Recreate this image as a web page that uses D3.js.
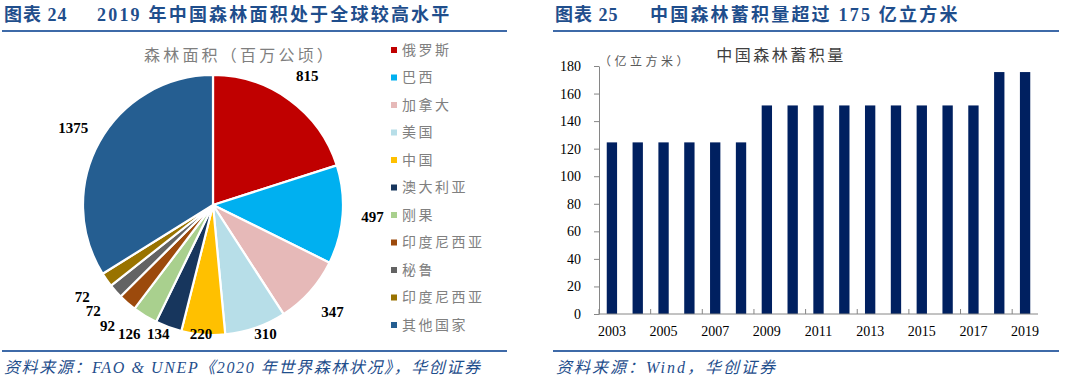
<!DOCTYPE html>
<html><head><meta charset="utf-8">
<script src="https://cdn.jsdelivr.net/npm/d3@7"></script>
<style>
html,body{margin:0;padding:0;background:#fff;}
svg{display:block;}
</style></head>
<body>
<script>
// ---------- data ----------
const pieTitle = "森林面积（百万公顷）";
const pieCategories = ["俄罗斯","巴西","加拿大","美国","中国","澳大利亚","刚果","印度尼西亚","秘鲁","印度尼西亚","其他国家"];
const pieValues = [815,497,347,310,220,134,126,92,72,72,1375];
const pieColors = ["#C00000","#00B0F0","#E6B9B8","#B7DEE8","#FFC000","#17365D","#A9D08E","#9C4A0C","#636363","#997300","#255E91"];

const barTitle = "中国森林蓄积量";
const barUnit = "（亿立方米）";
const years = ["2003","2004","2005","2006","2007","2008","2009","2010","2011","2012","2013","2014","2015","2016","2017","2018","2019"];
const stock = [124.56,124.56,124.56,124.56,124.56,124.56,151.37,151.37,151.37,151.37,151.37,151.37,151.37,151.37,151.37,175.6,175.6];
const yTicks = [0,20,40,60,80,100,120,140,160,180];
const xLabels = ["2003","2005","2007","2009","2011","2013","2015","2017","2019"];

const W = 1080, H = 379;
const blue = "#1F4E8C";
const lineBlue = "#3E6AA8";
const serif = "'Liberation Serif','Times New Roman',serif";
const cjk = "'Liberation Serif','Noto Sans CJK SC',serif";

const svg = d3.select("body").append("svg").attr("width", W).attr("height", H);

// ---------- headers / footers ----------
function header(x0, x1, num, title, titleX) {
  svg.append("text").attr("x", x0 + 2).attr("y", 21)
    .attr("font-family", cjk).attr("font-weight", "bold").attr("font-size", 18)
    .attr("letter-spacing", 1).attr("fill", blue).text("图表 " + num);
  svg.append("text").attr("x", titleX).attr("y", 21)
    .attr("font-family", cjk).attr("font-weight", "bold").attr("font-size", 18)
    .attr("letter-spacing", 2.2).attr("fill", blue).text(title);
  svg.append("line").attr("x1", x0).attr("x2", x1).attr("y1", 31).attr("y2", 31)
    .attr("stroke", lineBlue).attr("stroke-width", 2);
  svg.append("line").attr("x1", x0).attr("x2", x1).attr("y1", 351).attr("y2", 351)
    .attr("stroke", lineBlue).attr("stroke-width", 2);
}
header(2, 507, "24", "2019 年中国森林面积处于全球较高水平", 97);
header(553, 1059, "25", "中国森林蓄积量超过 175 亿立方米", 650);

svg.append("text").attr("x", 4).attr("y", 373)
  .attr("font-family", cjk).attr("font-style", "italic").attr("font-size", 16)
  .attr("letter-spacing", 1.6).attr("fill", blue).text("资料来源：FAO & UNEP《2020 年世界森林状况》，华创证券");
svg.append("text").attr("x", 556).attr("y", 373)
  .attr("font-family", cjk).attr("font-style", "italic").attr("font-size", 16)
  .attr("letter-spacing", 2).attr("fill", blue).text("资料来源：Wind，华创证券");

// ---------- pie ----------
const cx = 213, cy = 205, R = 130;
svg.append("text").attr("x", 240).attr("y", 55).attr("dy", "0.35em")
  .attr("text-anchor", "middle").attr("font-family", cjk).attr("font-size", 16)
  .attr("letter-spacing", 3.2).attr("fill", "#7F7F7F").text(pieTitle);

const pie = d3.pie().sort(null).value(d => d.v);
const pdata = pie(pieValues.map((v, i) => ({v, c: pieColors[i], n: pieCategories[i]})));
const arc = d3.arc().innerRadius(0).outerRadius(R);
const labelArc = d3.arc().innerRadius(160).outerRadius(160);
const pg = svg.append("g").attr("transform", `translate(${cx},${cy})`);
pg.selectAll("path").data(pdata).join("path")
  .attr("d", arc).attr("fill", d => d.data.c)
  .attr("stroke", "#fff").attr("stroke-width", 2.2).attr("stroke-linejoin", "round");
pg.selectAll("text").data(pdata).join("text")
  .each(function(d) {
    const [x, y] = labelArc.centroid(d);
    d3.select(this).attr("x", x).attr("y", Math.min(y, 129));
  })
  .attr("dy", "0.35em").attr("text-anchor", "middle")
  .attr("font-family", serif).attr("font-weight", "bold").attr("font-size", 15)
  .attr("fill", "#000").text(d => d.data.v);

// legend
const lg = svg.append("g");
const ly = d3.scalePoint().domain(d3.range(pieCategories.length)).range([50, 325]);
pieCategories.forEach((n, i) => {
  lg.append("rect").attr("x", 391).attr("y", ly(i) - 3).attr("width", 6).attr("height", 6)
    .attr("fill", pieColors[i]);
  lg.append("text").attr("x", 402).attr("y", ly(i)).attr("dy", "0.35em")
    .attr("font-family", cjk).attr("font-size", 14).attr("letter-spacing", 2.5)
    .attr("fill", "#808080").text(n);
});

// ---------- bar chart ----------
const x = d3.scaleBand().domain(years).range([599, 1038]).paddingInner(0.6).paddingOuter(0.3);
const y = d3.scaleLinear().domain([0, 180]).range([314, 66]);
const axisColor = "#868686";

svg.append("text").attr("x", 781).attr("y", 55).attr("dy", "0.35em")
  .attr("text-anchor", "middle").attr("font-family", cjk).attr("font-size", 16)
  .attr("letter-spacing", 2.5).attr("fill", "#404040").text(barTitle);
svg.append("text").attr("x", 599).attr("y", 62).attr("dy", "0.35em")
  .attr("font-family", cjk).attr("font-size", 12).attr("letter-spacing", 3.5)
  .attr("fill", "#595959").text(barUnit);

svg.append("g").selectAll("rect").data(years).join("rect")
  .attr("x", d => x(d)).attr("width", x.bandwidth())
  .attr("y", (d, i) => y(stock[i])).attr("height", (d, i) => y(0) - y(stock[i]))
  .attr("fill", "#002060");

// y axis
const ya = svg.append("g").attr("transform", "translate(599,0)")
  .call(d3.axisLeft(y).tickValues(yTicks).tickSize(5).tickPadding(13).tickSizeOuter(0));
ya.select(".domain").attr("stroke", axisColor);
ya.selectAll(".tick line").attr("stroke", axisColor);
ya.selectAll(".tick text").attr("font-family", serif).attr("font-size", 14).attr("fill", "#000");

// x axis
svg.append("line").attr("x1", 599).attr("x2", 1038).attr("y1", y(0)).attr("y2", y(0))
  .attr("stroke", axisColor);
svg.append("g").selectAll("line").data(xLabels).join("line")
  .attr("x1", d => x(d) - x.step() * 0.3).attr("x2", d => x(d) - x.step() * 0.3)
  .attr("y1", y(0)).attr("y2", y(0) - 5).attr("stroke", axisColor);
svg.append("g").selectAll("text").data(xLabels).join("text")
  .attr("x", d => x(d) + x.bandwidth() / 2).attr("y", 336)
  .attr("text-anchor", "middle").attr("font-family", serif).attr("font-size", 14)
  .attr("fill", "#000").text(d => d);
</script>
</body></html>
